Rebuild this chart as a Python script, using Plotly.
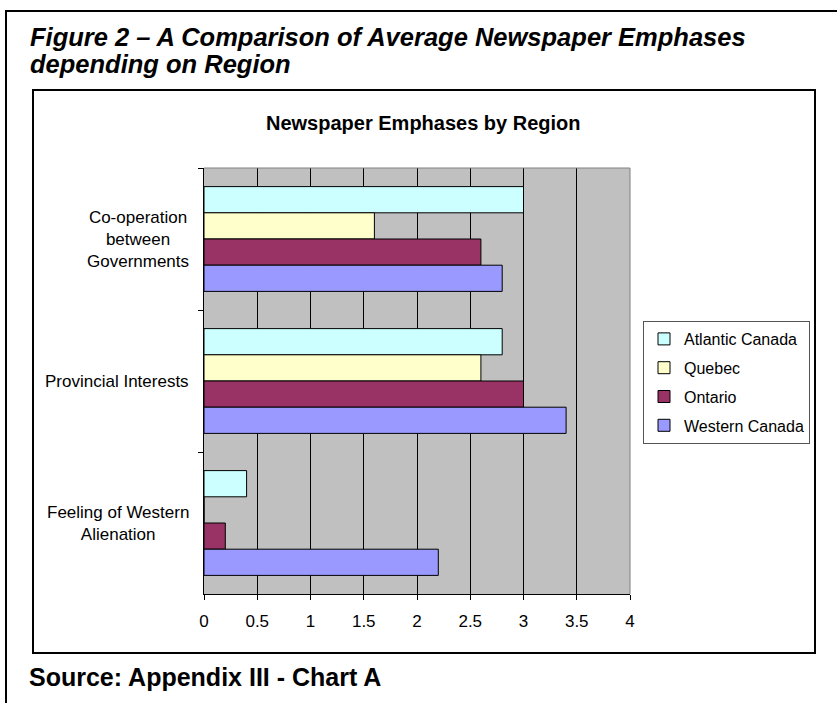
import plotly.graph_objects as go

# ---- data ----
categories = ["Co-operation between Governments", "Provincial Interests", "Feeling of Western Alienation"]
category_labels = ["Co-operation<br>between<br>Governments", "Provincial Interests", "Feeling of Western<br>Alienation"]
series_names = ["Atlantic Canada", "Quebec", "Ontario", "Western Canada"]
atlantic = [3.0, 2.8, 0.4]
quebec = [1.6, 2.6, 0.0]
ontario = [2.6, 3.0, 0.2]
western = [2.8, 3.4, 2.2]
x_ticks = [0, 0.5, 1, 1.5, 2, 2.5, 3, 3.5, 4]

colors = ["#CCFFFF", "#FFFFCC", "#993366", "#9999FF"]
series_values = [atlantic, quebec, ontario, western]

W_FIG, H_FIG = 837, 703
L, R, T, B = 204, 630, 168, 594


def px_x(p):
    return (p - L) / (R - L)


def px_y(p):
    return (B - p) / (B - T)


fig = go.Figure()
for name, vals, col in zip(series_names, series_values, colors):
    fig.add_trace(go.Bar(
        y=categories, x=vals, name=name, orientation="h",
        marker=dict(color=col, line=dict(color="#000000", width=1)),
        legendgroup=name, hoverinfo="skip",
    ))

font_main = "Arial, 'Liberation Sans', sans-serif"

annotations = []
for cat, lab in zip(categories, category_labels):
    annotations.append(dict(
        x=px_x(191), xref="paper", y=cat, yref="y", text=lab, showarrow=False,
        xanchor="right", yanchor="middle", align="center",
        font=dict(family=font_main, size=17, color="#000000"),
    ))

annotations += [
    dict(x=px_x(28), y=px_y(37), xref="paper", yref="paper", showarrow=False,
         xanchor="left", yanchor="middle",
         text="<b><i>Figure 2 – A Comparison of Average Newspaper Emphases</i></b>",
         font=dict(family=font_main, size=25.5, color="#000000")),
    dict(x=px_x(28), y=px_y(64), xref="paper", yref="paper", showarrow=False,
         xanchor="left", yanchor="middle",
         text="<b><i>depending on Region</i></b>",
         font=dict(family=font_main, size=25.5, color="#000000")),
    dict(x=px_x(423), y=px_y(123), xref="paper", yref="paper", showarrow=False,
         xanchor="center", yanchor="middle",
         text="<b>Newspaper Emphases by Region</b>",
         font=dict(family=font_main, size=20, color="#000000")),
    dict(x=px_x(27), y=px_y(677), xref="paper", yref="paper", showarrow=False,
         xanchor="left", yanchor="middle",
         text="<b>Source: Appendix III - Chart A</b>",
         font=dict(family=font_main, size=25, color="#000000")),
]

shapes = [
    # outer frame (left and top)
    dict(type="line", xref="paper", yref="paper", x0=px_x(6), y0=px_y(720), x1=px_x(6), y1=px_y(11),
         line=dict(color="#000000", width=2)),
    dict(type="line", xref="paper", yref="paper", x0=px_x(5), y0=px_y(11), x1=px_x(860), y1=px_y(11),
         line=dict(color="#000000", width=2)),
    # inner chart frame
    dict(type="rect", xref="paper", yref="paper", x0=px_x(33), y0=px_y(653), x1=px_x(815), y1=px_y(90),
         line=dict(color="#000000", width=2), layer="below"),
    # plot area top/right gray border
    dict(type="line", xref="paper", yref="paper", x0=0, y0=1, x1=1, y1=1,
         line=dict(color="#808080", width=1), layer="above"),
    dict(type="line", xref="paper", yref="paper", x0=1, y0=0, x1=1, y1=1,
         line=dict(color="#808080", width=1), layer="above"),
]

fig.update_layout(
    width=W_FIG, height=H_FIG, autosize=False,
    margin=dict(l=L, r=W_FIG - R, t=T, b=H_FIG - B, pad=0),
    paper_bgcolor="#FFFFFF", plot_bgcolor="#C0C0C0",
    barmode="group", bargap=0.262, bargroupgap=0,
    font=dict(family=font_main, size=17, color="#000000"),
    showlegend=True,
    legend=dict(
        x=px_x(810), xanchor="right", y=px_y(321), yanchor="top",
        bgcolor="#FFFFFF", bordercolor="#555555", borderwidth=1,
        font=dict(family=font_main, size=16, color="#000000"),
        traceorder="grouped", tracegroupgap=5,
    ),
    xaxis=dict(
        range=[0, 4], tickmode="array", tickvals=x_ticks,
        ticktext=[f"{v:g}" for v in x_ticks],
        showgrid=True, gridcolor="#000000", gridwidth=1,
        ticks="outside", ticklen=5, tickcolor="#000000",
        showline=True, linecolor="#000000", linewidth=1,
        zeroline=False, tickfont=dict(size=17), fixedrange=True,
        ticklabelstandoff=7,
    ),
    yaxis=dict(
        type="category", categoryorder="array", categoryarray=categories,
        autorange="reversed", showticklabels=False,
        ticks="outside", ticklen=5, tickcolor="#000000", tickson="boundaries",
        showline=True, linecolor="#000000", linewidth=1,
        showgrid=False, zeroline=False, fixedrange=True,
    ),
    annotations=annotations, shapes=shapes,
)

fig.write_html(
    "out.html",
    config={"displayModeBar": False},
    post_script="document.body.style.margin='0';document.body.style.padding='0';document.body.style.overflow='hidden';",
)
